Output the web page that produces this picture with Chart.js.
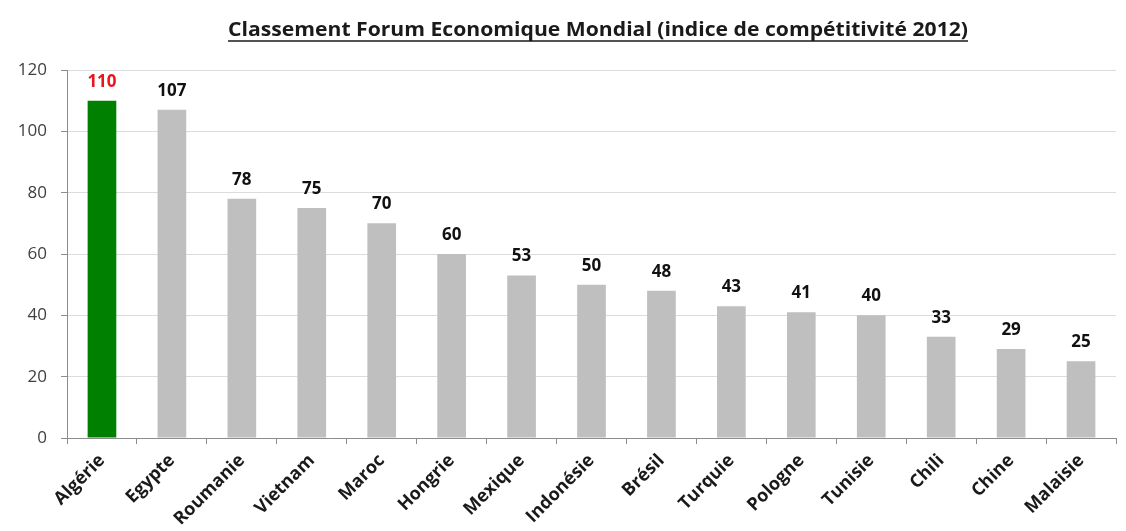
<!DOCTYPE html>
<html>
<head>
<meta charset="utf-8">
<script src="https://cdn.jsdelivr.net/npm/chart.js@4/dist/chart.umd.min.js"></script>
<style>
html,body{margin:0;padding:0;background:#fff;}
#wrap{width:1126px;height:531px;position:relative;}
</style>
</head>
<body>
<div id="wrap"><canvas id="c" width="1126" height="531"></canvas></div>
<script>
const categories = ["Algérie","Egypte","Roumanie","Vietnam","Maroc","Hongrie","Mexique","Indonésie","Brésil","Turquie","Pologne","Tunisie","Chili","Chine","Malaisie"];
const values = [110,107,78,75,70,60,53,50,48,43,41,40,33,29,25];
const yTicks = [0,20,40,60,80,100,120];
const titleText = "Classement Forum Economique Mondial (indice de compétitivité 2012)";

const barColors = categories.map((c,i)=> i===0 ? "#008000" : "#bfbfbf");
const labelColors = categories.map((c,i)=> i===0 ? "#e8141e" : "#111111");
const FONT = "'Open Sans', sans-serif";

const titlePlugin = {
  id:'ulTitle',
  afterDraw(chart){
    const ctx = chart.ctx;
    ctx.save();
    ctx.font = "bold 20px " + FONT;
    let w = ctx.measureText(titleText).width;
    const target = 740;
    const sx = target / w;
    ctx.fillStyle = "#1a1a1a";
    ctx.textAlign = "center";
    ctx.textBaseline = "alphabetic";
    const cx = 598, y = 36;
    ctx.translate(cx, y);
    ctx.scale(sx, 1);
    ctx.fillText(titleText, 0, 0);
    ctx.setTransform(1,0,0,1,0,0);
    ctx.strokeStyle = "#1a1a1a";
    ctx.lineWidth = 1.5;
    ctx.beginPath();
    ctx.moveTo(cx - target/2, y+5);
    ctx.lineTo(cx + target/2, y+5);
    ctx.stroke();
    ctx.restore();
  }
};

const labelPlugin = {
  id:'valLabels',
  afterDatasetsDraw(chart){
    const ctx = chart.ctx;
    const meta = chart.getDatasetMeta(0);
    ctx.save();
    ctx.font = "bold 17px " + FONT;
    ctx.textAlign = "center";
    ctx.textBaseline = "alphabetic";
    meta.data.forEach((bar,i)=>{
      ctx.fillStyle = labelColors[i];
      ctx.fillText(String(values[i]), bar.x, bar.y - 14);
    });
    ctx.restore();
  }
};

new Chart(document.getElementById('c'), {
  type:'bar',
  data:{
    labels:categories,
    datasets:[{
      data:values,
      backgroundColor:barColors,
      borderWidth:0,
      categoryPercentage:1.0,
      barPercentage:0.41
    }]
  },
  options:{
    responsive:false,
    animation:false,
    devicePixelRatio:1,
    layout:{padding:{top:70,right:10,bottom:0,left:0}},
    plugins:{legend:{display:false},tooltip:{enabled:false},title:{display:false}},
    scales:{
      x:{
        offset:true,
        grid:{display:true,offset:true,drawOnChartArea:false,drawTicks:true,tickLength:6,color:"#8c8c8c"},
        border:{display:true,color:"#8c8c8c",width:1},
        ticks:{
          autoSkip:false,
          minRotation:45,maxRotation:45,
          color:"#1a1a1a",
          font:{family:FONT,size:18,weight:'bold'},
          padding:6
        },
        afterFit(scale){ scale.height = 93; }
      },
      y:{
        min:0,max:120,
        afterBuildTicks(scale){ scale.ticks = yTicks.map(v=>({value:v})); },
        grid:{color:"#dcdcdc",drawTicks:true,tickLength:6,tickColor:"#8c8c8c"},
        border:{display:true,color:"#8c8c8c",width:1},
        ticks:{color:"#404040",font:{family:FONT,size:17},padding:14},
        afterFit(scale){ scale.width = 67; }
      }
    }
  },
  plugins:[titlePlugin,labelPlugin]
});
</script>
</body>
</html>
